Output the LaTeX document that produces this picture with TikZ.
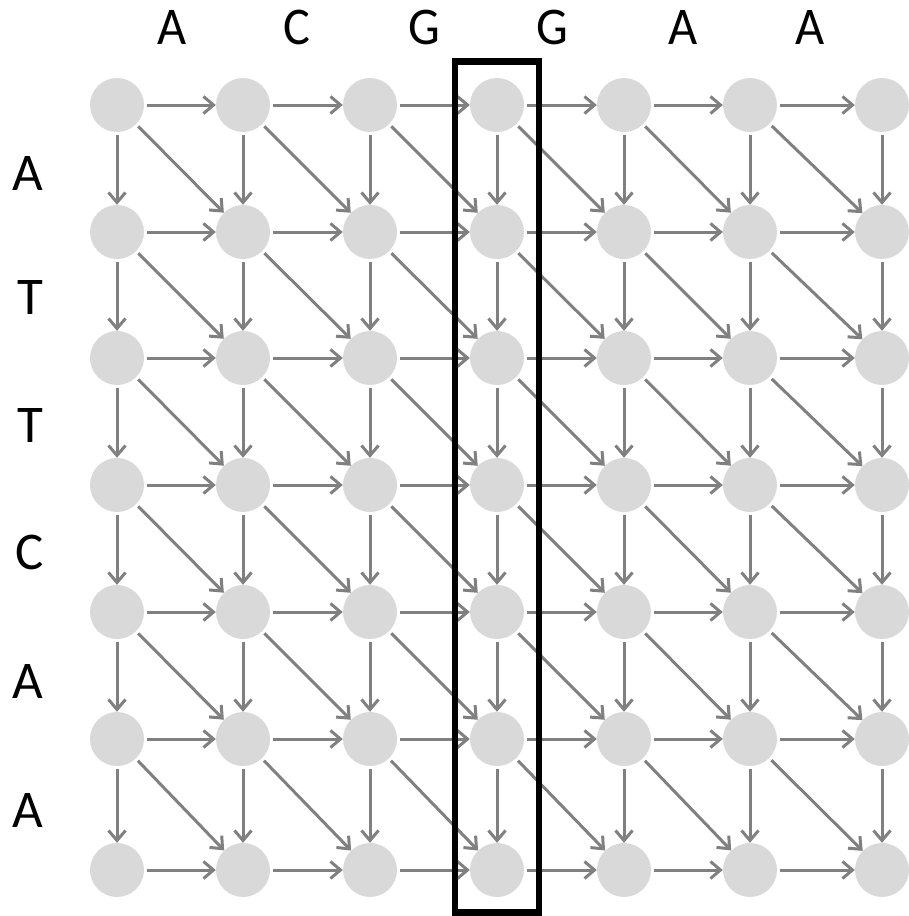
\documentclass[tikz,border=0pt]{standalone}
\usepackage{fontspec}
\setmainfont{Carlito}
\usetikzlibrary{arrows.meta}
\definecolor{dotfill}{HTML}{D9D9D9}
\definecolor{edgegray}{HTML}{808080}
\tikzset{
  dot/.style={circle, fill=dotfill, inner sep=0pt, minimum size=54pt},
  arr/.style={draw=edgegray, line width=3pt,
    -{Straight Barb[length=10pt, width=17pt, line width=3pt]},
    shorten <=3pt},
  seqtop/.style={font=\fontsize{53}{53}\selectfont, xscale=0.95, inner sep=0pt},
  seqleft/.style={font=\fontsize{53}{53}\selectfont, inner sep=0pt},
  colbox/.style={draw=black, line width=6.5pt, rectangle, inner sep=0pt,
    minimum width=84pt, minimum height=851pt}
}
\begin{document}
\begin{tikzpicture}[x=1pt, y=-1pt]
\useasboundingbox (0,0) rectangle (909,916);

% column / row centres of the alignment grid
\def\colx{{117,243,370,497,624,750,882}}
\def\rowy{{105,232,358,485,612,739,870}}

% grid nodes
\foreach \i in {0,...,6}{
  \foreach \j in {0,...,6}{
    \pgfmathsetmacro{\xx}{\colx[\j]}
    \pgfmathsetmacro{\yy}{\rowy[\i]}
    \node[dot] (n-\i-\j) at (\xx,\yy) {};
  }
}

% horizontal edges
\foreach \i in {0,...,6}{
  \foreach \j [evaluate=\j as \k using int(\j+1)] in {0,...,5}{
    \draw[arr] (n-\i-\j) -- (n-\i-\k);
  }
}
% vertical edges
\foreach \i [evaluate=\i as \k using int(\i+1)] in {0,...,5}{
  \foreach \j in {0,...,6}{
    \draw[arr] (n-\i-\j) -- (n-\k-\j);
  }
}
% diagonal edges
\foreach \i [evaluate=\i as \k using int(\i+1)] in {0,...,5}{
  \foreach \j [evaluate=\j as \m using int(\j+1)] in {0,...,5}{
    \draw[arr] (n-\i-\j) -- (n-\k-\m);
  }
}

% highlighted column
\node[colbox] (col) at (497,487) {};

% sequence along the top
\node[seqtop] (t1) at (172,27) {A};
\node[seqtop] (t2) at (297,27) {C};
\node[seqtop] (t3) at (424,27) {G};
\node[seqtop] (t4) at (552,27) {G};
\node[seqtop] (t5) at (683,27) {A};
\node[seqtop] (t6) at (810,27) {A};

% sequence down the left side
\node[seqleft] (l1) at (28,173) {A};
\node[seqleft] (l2) at (30,297) {T};
\node[seqleft] (l3) at (30,425) {T};
\node[seqleft] (l4) at (30,552) {C};
\node[seqleft] (l5) at (28,681) {A};
\node[seqleft] (l6) at (28,810) {A};
\end{tikzpicture}
\end{document}
